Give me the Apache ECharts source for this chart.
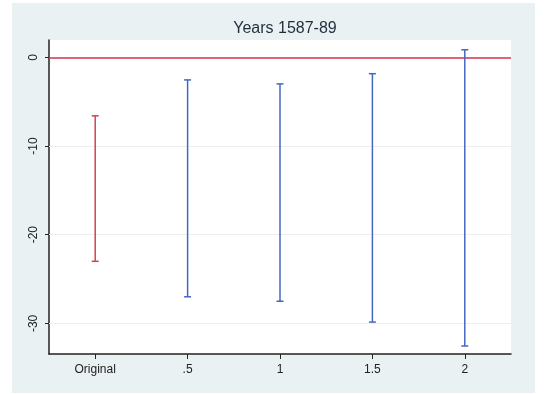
<!DOCTYPE html>
<html>
<head>
<meta charset="utf-8">
<script src="https://cdn.jsdelivr.net/npm/echarts@6/dist/echarts.min.js"></script>
<style>
html,body{margin:0;padding:0;background:#ffffff;}
#chart{width:545px;height:394px;}
</style>
</head>
<body>
<div id="chart"></div>
<script>
var categories = ['Original', '.5', '1', '1.5', '2'];
var upperValues = [-6.6, -2.55, -3.0, -1.85, 0.85];
var lowerValues = [-23.0, -27.0, -27.5, -29.85, -32.55];
var barColors = ['#d0454c', '#4468c0', '#4468c0', '#4468c0', '#4468c0'];
var yTickValues = [-30, -20, -10, 0];
var yTickLabels = ['-30', '-20', '-10', '0'];
var titleText = 'Years 1587-89';

var data = categories.map(function (c, i) { return [i, lowerValues[i], upperValues[i]]; });

var chart = echarts.init(document.getElementById('chart'));
chart.setOption({
  animation: false,
  backgroundColor: '#ffffff',
  graphic: [{
    type: 'rect', z: -100, silent: true,
    shape: {x: 12, y: 3, width: 523, height: 390},
    style: {fill: '#eaf1f3'}
  }],
  title: {
    text: titleText, left: 280, top: 16, textAlign: 'center',
    textStyle: {fontFamily: 'Liberation Sans', fontSize: 16, fontWeight: 'normal', color: '#1f2d3d'}
  },
  grid: {left: 49, right: 34, top: 40, bottom: 40, show: true, backgroundColor: '#ffffff', borderWidth: 0},
  xAxis: {
    type: 'category', data: categories, boundaryGap: true,
    axisLine: {onZero: false, lineStyle: {color: '#222', width: 1.5}},
    axisTick: {show: true, alignWithLabel: true, interval: 0, length: 5, lineStyle: {color: '#222', width: 1}},
    axisLabel: {fontFamily: 'Liberation Sans', fontSize: 12, color: '#222', margin: 10}
  },
  yAxis: {
    type: 'value', min: -33.45, max: 1.95,
    axisLine: {show: true, lineStyle: {color: '#222', width: 1.5}},
    axisTick: {show: true, length: 4, customValues: yTickValues, lineStyle: {color: '#222'}},
    axisLabel: {rotate: 90, fontFamily: 'Liberation Sans', fontSize: 12, color: '#222', margin: 9,
      customValues: yTickValues,
      formatter: function (v) { var k = yTickValues.indexOf(v); return k >= 0 ? yTickLabels[k] : ''; }},
    splitLine: {show: false}
  },
  series: [{
    type: 'custom',
    data: data,
    renderItem: function (params, api) {
      var i = api.value(0);
      var lo = api.coord([i, api.value(1)]);
      var hi = api.coord([i, api.value(2)]);
      var col = barColors[params.dataIndex];
      var hw = 3.5;
      var st = {stroke: col, lineWidth: 1.5};
      return {type: 'group', children: [
        {type: 'line', shape: {x1: lo[0], y1: lo[1], x2: hi[0], y2: hi[1]}, style: st},
        {type: 'line', shape: {x1: lo[0]-hw, y1: lo[1], x2: lo[0]+hw, y2: lo[1]}, style: st},
        {type: 'line', shape: {x1: hi[0]-hw, y1: hi[1], x2: hi[0]+hw, y2: hi[1]}, style: st}
      ]};
    },
    z: 5
  }, {
    type: 'line', data: [], z: 2,
    markLine: {
      silent: true, symbol: 'none', label: {show: false},
      data: yTickValues.map(function (v) {
        return v === 0 ? {yAxis: v, lineStyle: {color: '#d2304f', width: 1.5, type: 'solid'}}
                       : {yAxis: v, lineStyle: {color: '#eeeeee', width: 1, type: 'solid'}};
      })
    }
  }]
});
</script>
</body>
</html>
